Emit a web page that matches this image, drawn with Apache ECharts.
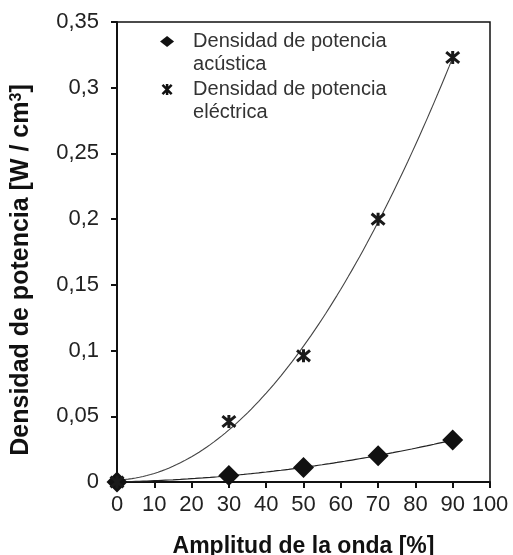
<!DOCTYPE html>
<html><head><meta charset="utf-8">
<script src="https://cdn.jsdelivr.net/npm/echarts@6/dist/echarts.min.js"></script>
<style>html,body{margin:0;padding:0;background:#fff}#c{width:513px;height:555px}</style>
</head><body><div id="c"></div>
<script>
const amplitude = [0, 30, 50, 70, 90];
const acustica = [0, 0.005, 0.011, 0.020, 0.032];
const electrica = [0, 0.046, 0.096, 0.200, 0.323];
const nameAcustica = 'Densidad de potencia\nacústica';
const nameElectrica = 'Densidad de potencia\neléctrica';

// least-squares quadratic trendline (as in the original chart)
function quadFit(xs, ys) {
  let S = [0,0,0,0,0], T = [0,0,0];
  for (let i = 0; i < xs.length; i++) {
    let p = 1;
    for (let k = 0; k < 5; k++) { S[k] += p; if (k < 3) T[k] += p * ys[i]; p *= xs[i]; }
  }
  const A = [[S[0],S[1],S[2],T[0]],[S[1],S[2],S[3],T[1]],[S[2],S[3],S[4],T[2]]];
  for (let i = 0; i < 3; i++) {
    for (let j = i + 1; j < 3; j++) {
      const f = A[j][i] / A[i][i];
      for (let k = i; k < 4; k++) A[j][k] -= f * A[i][k];
    }
  }
  const r = [0,0,0];
  for (let i = 2; i >= 0; i--) {
    let s = A[i][3];
    for (let k = i + 1; k < 3; k++) s -= A[i][k] * r[k];
    r[i] = s / A[i][i];
  }
  return x => r[0] + r[1] * x + r[2] * x * x;
}
function trend(xs, ys) {
  const f = quadFit(xs, ys), out = [];
  for (let x = xs[0]; x <= xs[xs.length - 1] + 1e-9; x += 1) out.push([x, f(x)]);
  return out;
}
const starPath = 'path://M0,0L10,10M10,0L0,10M5,-1L5,11';
const LH = 23;

const chart = echarts.init(document.getElementById('c'));
chart.setOption({
  animation: false,
  textStyle: { fontFamily: 'Liberation Sans, Arial, sans-serif' },
  grid: { left: 117, right: 23, top: 22, bottom: 73, outerBoundsMode: 'none', containLabel: false,
          show: true, borderColor: '#111', borderWidth: 1.5 },
  legend: {
    orient: 'vertical', left: 155, top: 2, itemGap: 48 - 3 * LH, itemWidth: 14, itemHeight: 11,
    data: [
      { name: nameAcustica, icon: 'diamond', itemStyle: { color: '#111', opacity: 1 } },
      { name: nameElectrica, icon: starPath, itemStyle: { color: 'none', borderColor: '#111', borderWidth: 2.5, opacity: 1 } }
    ],
    formatter: n => '\n' + n,
    textStyle: { fontSize: 20, color: '#333', lineHeight: LH, padding: [0, 0, 0, 14] }
  },
  xAxis: {
    type: 'value', min: 0, max: 100, interval: 10,
    name: 'Amplitud de la onda [%]', nameLocation: 'middle', nameGap: 53,
    nameTextStyle: { fontSize: 23, fontWeight: 'bold', color: '#111' },
    axisLine: { lineStyle: { color: '#111', width: 2 } },
    axisTick: { lineStyle: { color: '#111', width: 2 }, length: 6 },
    axisLabel: { fontSize: 22, color: '#222', margin: 12 },
    splitLine: { show: false }
  },
  yAxis: {
    type: 'value', min: 0, max: 0.35, interval: 0.05,
    name: '{t|Densidad de potencia [W / cm}{s|3}{t|]}', nameLocation: 'middle', nameGap: 83,
    nameTextStyle: { padding: [0, 36, 0, 0], rich: {
      t: { fontSize: 25, fontWeight: 'bold', color: '#111' },
      s: { fontSize: 16, fontWeight: 'bold', color: '#111', verticalAlign: 'top', padding: [0, 0, 9, 0] }
    } },
    axisLine: { show: true, lineStyle: { color: '#111', width: 2 } },
    axisTick: { show: true, lineStyle: { color: '#111', width: 2 }, length: 6 },
    axisLabel: { fontSize: 22, color: '#222', margin: 18,
      formatter: v => String(Math.round(v * 100) / 100).replace('.', ',') },
    splitLine: { show: false }
  },
  series: [
    { type: 'line', data: trend(amplitude, acustica), showSymbol: false, silent: true,
      lineStyle: { color: '#222', width: 1.2 }, z: 1 },
    { type: 'line', data: trend(amplitude, electrica), showSymbol: false, silent: true,
      lineStyle: { color: '#444', width: 1.1 }, z: 1 },
    { name: nameAcustica, type: 'scatter', data: amplitude.map((x, i) => [x, acustica[i]]),
      symbol: 'diamond', symbolSize: 21, itemStyle: { color: '#111', opacity: 1 }, z: 3 },
    { name: nameElectrica, type: 'scatter', data: amplitude.map((x, i) => [x, electrica[i]]),
      symbol: starPath, symbolSize: 13, itemStyle: { color: 'none', borderColor: '#1a1a1a', borderWidth: 3, opacity: 1 }, z: 3 }
  ]
});
</script></body></html>
